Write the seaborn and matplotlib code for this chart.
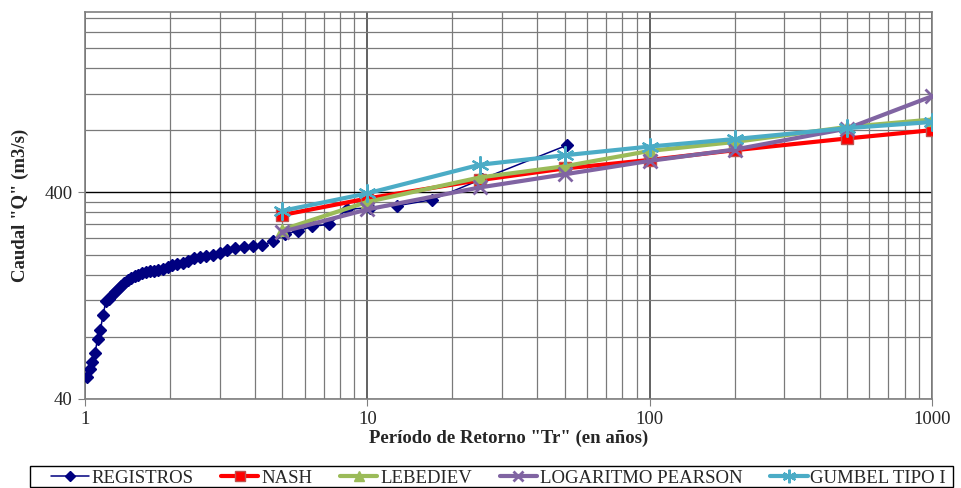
import matplotlib
matplotlib.use("Agg")
import matplotlib.pyplot as plt
import matplotlib.ticker as mticker
from matplotlib.lines import Line2D
from matplotlib.patches import Rectangle
import seaborn as sns
import pandas as pd

# ---------------- data ----------------
T_registros = [51.0, 25.5, 17.0, 12.75, 10.2, 8.5, 7.286, 6.375, 5.667, 5.1,
               4.636, 4.25, 3.923, 3.643, 3.4, 3.188, 3.0, 2.833, 2.684, 2.55,
               2.429, 2.318, 2.217, 2.125, 2.04, 1.962, 1.889, 1.821, 1.759, 1.7,
               1.645, 1.594, 1.545, 1.5, 1.457, 1.417, 1.378, 1.342, 1.308, 1.275,
               1.244, 1.214, 1.186, 1.159, 1.133, 1.109, 1.085, 1.063, 1.041, 1.02]
Q_registros = [678, 465, 369, 345, 338, 331, 280, 274, 260, 251,
               232, 222, 220, 218, 214, 211, 204, 200, 197, 194,
               193, 186, 181, 179, 178, 175, 171, 169, 167, 166,
               164, 162, 160, 158, 154, 150, 146, 140, 136, 132,
               128, 122, 119, 102, 86, 78, 67, 60, 56, 51]

T_fit = [5, 10, 25, 50, 100, 200, 500, 1000]
Q_nash = [311, 374, 459, 523, 575, 641, 731, 802]
Q_lebediev = [264, 360, 473, 536, 636, 703, 831, 903]
Q_pearson = [258, 331, 423, 490, 569, 646, 816, 1171]
Q_gumbel = [326, 396, 545, 606, 668, 726, 820, 879]

labels = ["REGISTROS", "NASH", "LEBEDIEV", "LOGARITMO PEARSON", "GUMBEL TIPO I"]
x_label = 'Período de Retorno "Tr" (en años)'
y_label = 'Caudal "Q" (m3/s)'

# ---------------- style ----------------
sns.set_style("white")
plt.rcParams["font.family"] = ["Liberation Serif", "DejaVu Serif"]

fig = plt.figure(figsize=(9.61, 4.88), dpi=100)
ax = fig.add_axes([85 / 961, 1 - 398.7 / 488, (932 - 85) / 961, (398.7 - 12) / 488])

series = [
    (T_registros, Q_registros, labels[0], dict(color="#000080", lw=1.1, marker="D", ms=6.5,
                                               mec="#000080", mfc="#000080")),
    (T_fit, Q_nash, labels[1], dict(color="#FF0000", lw=3.0, marker="s", ms=9,
                                    mec="#C0504D", mfc="#FF0000", mew=1.0)),
    (T_fit, Q_lebediev, labels[2], dict(color="#9BBB59", lw=3.0, marker="^", ms=9,
                                        mec="#9BBB59", mfc="#9BBB59")),
    (T_fit, Q_pearson, labels[3], dict(color="#8064A2", lw=3.0, marker="x", ms=10,
                                       mec="#8064A2", mew=2.0)),
    (T_fit, Q_gumbel, labels[4], dict(color="#4BACC6", lw=3.0, marker=(6, 2, 0), ms=13,
                                      mec="#4BACC6", mew=1.6)),
]

handles = []
for i, (xs, ys, lab, kw) in enumerate(series):
    df = pd.DataFrame({"T": xs, "Q": ys})
    sns.lineplot(data=df, x="T", y="Q", ax=ax, errorbar=None, sort=True,
                 color=kw["color"], linewidth=kw["lw"], marker=kw["marker"],
                 markersize=kw["ms"], markeredgecolor=kw["mec"],
                 markerfacecolor=kw.get("mfc", kw["color"]),
                 markeredgewidth=kw.get("mew", 1.0), zorder=3 + i, legend=False)
    handles.append(Line2D([], [], color=kw["color"], lw=kw["lw"], marker=kw["marker"],
                          ms=kw["ms"] * 0.75, mec=kw["mec"],
                          mfc=kw.get("mfc", kw["color"]), mew=kw.get("mew", 1.0)))

ax.set_xscale("log")
ax.set_yscale("log")
ax.set_xlim(1, 1000)
ax.set_ylim(40, 3000)

# y ticks: major at 40 and 400, minor every 40 / 400
ax.yaxis.set_major_locator(mticker.FixedLocator([40, 400]))
ax.yaxis.set_minor_locator(mticker.FixedLocator(
    [40 * k for k in range(2, 10)] + [400 * k for k in range(2, 8)]))
ax.yaxis.set_major_formatter(mticker.FuncFormatter(lambda v, p: f"{v:g}"))
ax.yaxis.set_minor_formatter(mticker.NullFormatter())
ax.xaxis.set_major_locator(mticker.FixedLocator([1, 10, 100, 1000]))
ax.xaxis.set_minor_locator(mticker.LogLocator(base=10, subs=range(2, 10)))
ax.xaxis.set_major_formatter(mticker.FuncFormatter(lambda v, p: f"{v:g}"))
ax.xaxis.set_minor_formatter(mticker.NullFormatter())

ax.grid(True, which="major", axis="y", color="#000000", lw=1.0, zorder=0)
ax.grid(True, which="major", axis="x", color="#555555", lw=1.3, zorder=0)
ax.grid(True, which="minor", axis="both", color="#7a7a7a", lw=0.9, zorder=0)
ax.set_axisbelow(True)

for s in ax.spines.values():
    s.set_color("#808080")
    s.set_linewidth(1.2)

ax.tick_params(axis="both", which="major", labelsize=13.5, length=5, color="#808080",
               direction="out", pad=4, left=True, bottom=True)
ax.tick_params(axis="both", which="minor", length=0)

ax.set_xlabel(x_label, fontsize=13.5, fontweight="bold", labelpad=1)
ax.set_ylabel(y_label, fontsize=13.5, fontweight="bold", labelpad=11)

# legend box frame (drawn separately) and legend content inside it
fig.patches.append(Rectangle((30 / 961, 1 - 487 / 488), 923 / 961, 21 / 488,
                             transform=fig.transFigure, fill=False,
                             edgecolor="#000000", lw=1.0))
leg = fig.legend(handles, labels, loc="center left",
                 bbox_to_anchor=(51 / 961, 1 - 478 / 488, 895 / 961, 0),
                 mode="expand", ncol=5, frameon=False, fontsize=13.5,
                 handlelength=2.0, handletextpad=0.15, columnspacing=1.0,
                 borderpad=0.0, borderaxespad=0)

fig.savefig("out.png", dpi=100)
